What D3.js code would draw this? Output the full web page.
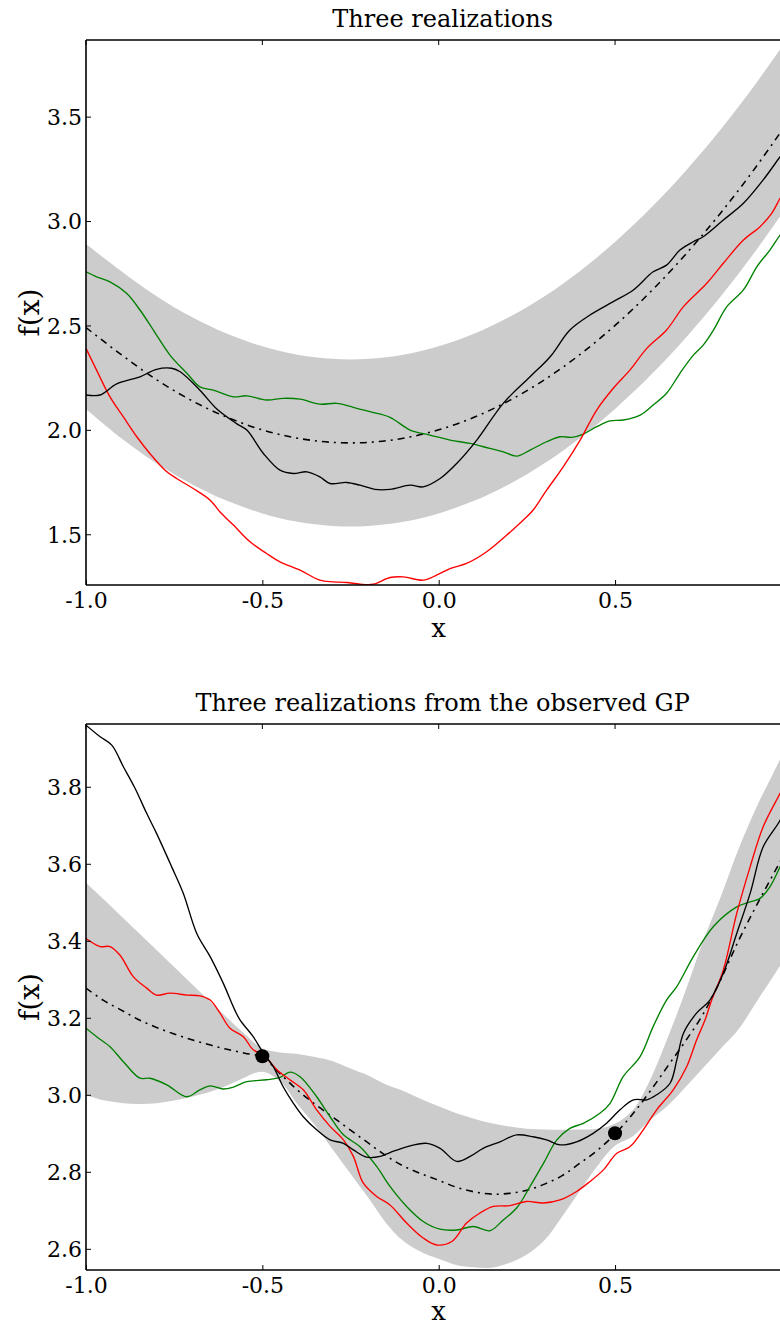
<!DOCTYPE html>
<html>
<head>
<meta charset="utf-8">
<script src="https://cdn.jsdelivr.net/npm/d3@7"></script>
<style>
  html, body { margin: 0; padding: 0; background: #fff; }
  svg { display: block; }
  text { font-family: "DejaVu Serif", serif; fill: #000; }
</style>
</head>
<body>
<svg id="chart" width="780" height="1326"></svg>
<script>
// ---------- shared axis ticks ----------
const xTicks = [-1.0, -0.5, 0.0, 0.5];
const topYTicks = [1.5, 2.0, 2.5, 3.0, 3.5];
const bottomYTicks = [2.6, 2.8, 3.0, 3.2, 3.4, 3.6, 3.8];
const xLimits = [-1, 1];
const topYLimits = [1.257, 3.867];
const bottomYLimits = [2.545, 3.963];

// ---------- prior GP: mean and 2-sigma band ----------
const topGridX = [-1.0,-0.9,-0.8,-0.7,-0.6,-0.5,-0.4,-0.3,-0.2,-0.1,0.0,0.1,0.2,0.3,0.4,0.5,0.6,0.7,0.8,0.9,1.0];
const topMean  = [2.49,2.36,2.24,2.14,2.06,2.00,1.96,1.94,1.94,1.96,2.00,2.06,2.14,2.24,2.36,2.50,2.66,2.84,3.04,3.26,3.50];
const topLower = [2.10,1.96,1.84,1.74,1.66,1.60,1.56,1.54,1.54,1.56,1.60,1.66,1.74,1.84,1.96,2.10,2.26,2.44,2.64,2.86,3.10];
const topUpper = [2.89,2.76,2.64,2.54,2.46,2.40,2.36,2.34,2.34,2.36,2.40,2.46,2.54,2.64,2.76,2.90,3.06,3.24,3.44,3.66,3.90];

// prior realizations
const topBlackX = [-1.000,-0.960,-0.913,-0.847,-0.800,-0.757,-0.733,-0.677,-0.629,-0.573,-0.544,-0.497,-0.450,-0.412,-0.374,-0.337,-0.308,-0.261,-0.223,-0.181,-0.138,-0.081,-0.044,0.004,0.051,0.108,0.183,0.259,0.316,0.372,0.429,0.495,0.552,0.608,0.646,0.684,0.722,0.750,0.807,0.864,0.920,0.968,1.000];
const topBlackY = [2.167,2.167,2.220,2.254,2.290,2.295,2.278,2.190,2.100,2.030,1.999,1.887,1.807,1.791,1.799,1.775,1.743,1.748,1.735,1.715,1.715,1.735,1.727,1.767,1.839,1.951,2.127,2.254,2.350,2.478,2.550,2.614,2.670,2.757,2.789,2.861,2.901,2.925,3.005,3.085,3.197,3.308,3.380];

const topRedX = [-1.000,-0.970,-0.932,-0.894,-0.856,-0.819,-0.776,-0.743,-0.696,-0.648,-0.620,-0.582,-0.535,-0.488,-0.450,-0.393,-0.337,-0.299,-0.261,-0.223,-0.185,-0.138,-0.100,-0.044,-0.006,0.032,0.079,0.136,0.193,0.240,0.268,0.306,0.353,0.401,0.448,0.495,0.542,0.590,0.646,0.694,0.760,0.807,0.864,0.911,0.944,0.968,1.000];
const topRedY = [2.390,2.286,2.158,2.062,1.967,1.887,1.807,1.767,1.719,1.663,1.607,1.544,1.464,1.408,1.368,1.328,1.280,1.272,1.269,1.261,1.261,1.293,1.296,1.280,1.304,1.336,1.360,1.416,1.496,1.568,1.616,1.711,1.823,1.951,2.095,2.199,2.286,2.390,2.478,2.590,2.702,2.798,2.909,2.973,3.037,3.109,3.200];

const topGreenX = [-1.000,-0.970,-0.932,-0.885,-0.847,-0.809,-0.762,-0.714,-0.677,-0.639,-0.582,-0.544,-0.488,-0.441,-0.393,-0.337,-0.289,-0.242,-0.195,-0.138,-0.081,-0.025,0.032,0.089,0.145,0.183,0.221,0.259,0.306,0.344,0.377,0.410,0.448,0.486,0.523,0.571,0.608,0.646,0.684,0.722,0.750,0.779,0.817,0.864,0.902,0.939,0.968,1.000];
const topGreenY = [2.757,2.733,2.709,2.654,2.574,2.478,2.358,2.271,2.206,2.190,2.158,2.163,2.143,2.151,2.147,2.123,2.127,2.108,2.087,2.060,1.999,1.975,1.951,1.935,1.911,1.895,1.874,1.903,1.943,1.967,1.964,1.980,2.015,2.043,2.047,2.071,2.119,2.175,2.271,2.358,2.406,2.478,2.590,2.670,2.781,2.861,2.933,3.000];

// ---------- posterior GP (conditioned on two observations) ----------
const obsX = [-0.5, 0.5];
const obsY = [3.1, 2.9];

const botGridX = [-1.00,-0.95,-0.90,-0.85,-0.80,-0.75,-0.70,-0.65,-0.60,-0.55,-0.50,-0.45,-0.40,-0.35,-0.30,-0.25,-0.20,-0.15,-0.10,-0.05,0.00,0.05,0.10,0.15,0.20,0.25,0.30,0.35,0.40,0.45,0.50,0.55,0.60,0.65,0.70,0.75,0.80,0.85,0.90,0.95,1.00];
const botMean  = [3.277,3.245,3.220,3.195,3.175,3.158,3.143,3.130,3.118,3.108,3.098,3.055,3.012,2.975,2.942,2.908,2.875,2.842,2.815,2.795,2.778,2.760,2.748,2.742,2.744,2.752,2.768,2.790,2.822,2.856,2.898,2.950,3.010,3.075,3.140,3.210,3.300,3.400,3.490,3.575,3.660];
const botUpper = [3.551,3.508,3.464,3.420,3.376,3.332,3.288,3.244,3.200,3.158,3.120,3.110,3.106,3.098,3.087,3.068,3.050,3.027,3.010,2.989,2.970,2.952,2.938,2.926,2.918,2.912,2.910,2.909,2.910,2.912,2.925,2.960,3.040,3.150,3.270,3.400,3.515,3.638,3.745,3.838,3.930];
const botLower = [2.999,2.986,2.979,2.976,2.978,2.985,2.995,3.007,3.024,3.045,3.060,3.035,2.975,2.920,2.857,2.795,2.733,2.668,2.620,2.592,2.574,2.558,2.552,2.551,2.563,2.585,2.622,2.684,2.750,2.815,2.868,2.892,2.935,2.972,3.020,3.070,3.120,3.170,3.240,3.310,3.380];

// posterior realizations
const botBlackX = [-1.000,-0.960,-0.927,-0.894,-0.861,-0.828,-0.800,-0.757,-0.724,-0.686,-0.648,-0.611,-0.578,-0.563,-0.526,-0.497,-0.469,-0.441,-0.412,-0.384,-0.346,-0.308,-0.270,-0.242,-0.204,-0.166,-0.138,-0.091,-0.034,0.004,0.051,0.089,0.126,0.174,0.221,0.268,0.306,0.344,0.391,0.438,0.476,0.514,0.552,0.590,0.618,0.656,0.675,0.694,0.731,0.769,0.807,0.845,0.883,0.920,0.968,1.000];
const botBlackY = [3.960,3.930,3.908,3.852,3.796,3.731,3.679,3.592,3.523,3.419,3.359,3.290,3.220,3.194,3.151,3.108,3.073,3.021,2.978,2.943,2.909,2.883,2.874,2.857,2.838,2.840,2.850,2.865,2.874,2.861,2.827,2.840,2.861,2.878,2.896,2.891,2.883,2.870,2.878,2.900,2.926,2.961,2.987,2.987,3.000,3.030,3.090,3.160,3.212,3.246,3.316,3.419,3.523,3.644,3.713,3.780];

const botRedX = [-1.000,-0.960,-0.932,-0.904,-0.866,-0.828,-0.800,-0.762,-0.714,-0.677,-0.648,-0.620,-0.592,-0.554,-0.526,-0.497,-0.459,-0.422,-0.384,-0.346,-0.308,-0.270,-0.242,-0.214,-0.176,-0.138,-0.091,-0.044,-0.006,0.037,0.079,0.117,0.155,0.202,0.249,0.297,0.344,0.391,0.429,0.467,0.505,0.542,0.580,0.618,0.665,0.703,0.731,0.755,0.774,0.807,0.845,0.883,0.920,0.968,1.000];
const botRedY = [3.406,3.385,3.385,3.363,3.307,3.277,3.259,3.264,3.259,3.257,3.246,3.212,3.173,3.151,3.117,3.104,3.065,3.039,3.013,2.961,2.918,2.883,2.840,2.771,2.736,2.714,2.667,2.628,2.610,2.619,2.667,2.693,2.710,2.712,2.723,2.719,2.727,2.749,2.775,2.805,2.848,2.865,2.909,2.961,3.013,3.073,3.142,3.194,3.246,3.324,3.471,3.592,3.696,3.783,3.840];

const botGreenX = [-1.000,-0.970,-0.932,-0.894,-0.847,-0.819,-0.771,-0.714,-0.677,-0.648,-0.611,-0.582,-0.544,-0.488,-0.450,-0.422,-0.393,-0.346,-0.308,-0.270,-0.223,-0.176,-0.138,-0.091,-0.044,0.004,0.051,0.098,0.145,0.183,0.221,0.259,0.297,0.335,0.372,0.410,0.457,0.486,0.523,0.571,0.608,0.646,0.675,0.722,0.779,0.845,0.883,0.911,0.939,0.968,1.000];
const botGreenY = [3.173,3.151,3.125,3.086,3.043,3.043,3.026,2.995,3.013,3.023,3.015,3.020,3.034,3.039,3.045,3.059,3.047,2.995,2.943,2.896,2.865,2.814,2.762,2.710,2.671,2.651,2.649,2.658,2.647,2.675,2.706,2.762,2.822,2.883,2.913,2.926,2.952,2.978,3.047,3.099,3.177,3.246,3.281,3.359,3.437,3.488,3.501,3.510,3.540,3.592,3.650];

// ---------- drawing ----------
const svg = d3.select("#chart");
const plotLeft = 86, plotRight = 791.4;

const BAND = "#cccccc";
const COLORS = { black: "#000000", red: "#ff0000", green: "#008000" };
const LINE_W = 1.35;

const zip = (xs, ys) => xs.map((x, i) => ({ x, y: ys[i] }));

function drawPanel(cfg) {
  const x = d3.scaleLinear().domain(xLimits).range([plotLeft, plotRight]);
  const y = d3.scaleLinear().domain(cfg.yLimits).range([cfg.bottom, cfg.top]);

  const g = svg.append("g");
  const clipId = "clip-" + cfg.id;
  g.append("clipPath").attr("id", clipId)
    .append("rect")
    .attr("x", plotLeft).attr("y", cfg.top)
    .attr("width", plotRight - plotLeft).attr("height", cfg.bottom - cfg.top);

  const plot = g.append("g").attr("clip-path", `url(#${clipId})`);

  // confidence band
  const bandData = cfg.gridX.map((gx, i) => ({ x: gx, lo: cfg.lower[i], hi: cfg.upper[i] }));
  plot.append("path")
    .datum(bandData)
    .attr("fill", BAND)
    .attr("stroke", "none")
    .attr("d", d3.area()
      .x(d => x(d.x)).y0(d => y(d.lo)).y1(d => y(d.hi))
      .curve(d3.curveCatmullRom.alpha(0.5)));

  // mean function (dash-dot)
  plot.append("path")
    .datum(zip(cfg.gridX, cfg.mean))
    .attr("fill", "none")
    .attr("stroke", "#000")
    .attr("stroke-width", LINE_W + 0.2)
    .attr("stroke-dasharray", "7,5,2,5")
    .attr("d", d3.line().x(d => x(d.x)).y(d => y(d.y)).curve(d3.curveCatmullRom.alpha(0.5)));

  // realizations
  const line = d3.line().x(d => x(d.x)).y(d => y(d.y)).curve(d3.curveCatmullRom.alpha(0.5));
  cfg.series.forEach(s => {
    plot.append("path")
      .datum(zip(s.xs, s.ys))
      .attr("fill", "none")
      .attr("stroke", s.color)
      .attr("stroke-width", LINE_W)
      .attr("stroke-linejoin", "round")
      .attr("d", line);
  });

  // observations
  if (cfg.obs) {
    plot.selectAll("circle.obs")
      .data(zip(cfg.obs.xs, cfg.obs.ys))
      .join("circle")
      .attr("class", "obs")
      .attr("cx", d => x(d.x)).attr("cy", d => y(d.y))
      .attr("r", 7).attr("fill", "#000");
  }

  // spines
  const spine = g.append("g").attr("stroke", "#000").attr("stroke-width", 1.6).attr("fill", "none");
  spine.append("line").attr("x1", plotLeft).attr("x2", plotRight).attr("y1", cfg.top).attr("y2", cfg.top);
  spine.append("line").attr("x1", plotLeft).attr("x2", plotRight).attr("y1", cfg.bottom).attr("y2", cfg.bottom);
  spine.append("line").attr("x1", plotLeft).attr("x2", plotLeft).attr("y1", cfg.top).attr("y2", cfg.bottom);
  spine.append("line").attr("x1", plotRight).attr("x2", plotRight).attr("y1", cfg.top).attr("y2", cfg.bottom);

  // inward ticks (matplotlib classic style)
  const tickLen = 5;
  const xAxisBottom = d3.axisBottom(x).tickValues(xTicks).tickSize(0).tickPadding(0);
  const gxb = g.append("g").attr("transform", `translate(0,${cfg.bottom})`).call(xAxisBottom);
  gxb.select(".domain").remove();
  gxb.selectAll(".tick text")
    .attr("y", 23).attr("dy", 0)
    .attr("font-size", 22).attr("font-family", "DejaVu Serif").attr("fill", "#000")
    .text(d => d3.format(".1f")(d).replace("\u2212", "-"));
  gxb.selectAll(".tick").append("line").attr("y1", 0).attr("y2", -tickLen).attr("stroke", "#000");
  xTicks.forEach(t => {
    g.append("line").attr("x1", x(t)).attr("x2", x(t))
      .attr("y1", cfg.top).attr("y2", cfg.top + tickLen).attr("stroke", "#000");
  });

  const yAxis = d3.axisLeft(y).tickValues(cfg.yTicks).tickSize(0).tickPadding(0);
  const gy = g.append("g").attr("transform", `translate(${plotLeft},0)`).call(yAxis);
  gy.select(".domain").remove();
  gy.selectAll(".tick text")
    .attr("x", -4).attr("dy", "0.36em")
    .attr("font-size", 22).attr("font-family", "DejaVu Serif").attr("fill", "#000")
    .text(d => d3.format(".1f")(d));
  gy.selectAll(".tick").append("line").attr("x1", 0).attr("x2", tickLen).attr("stroke", "#000");

  // title and axis labels
  g.append("text")
    .attr("x", (plotLeft + plotRight) / 2 + 4).attr("y", cfg.top - 13)
    .attr("text-anchor", "middle").attr("font-size", 24)
    .text(cfg.title);
  g.append("text")
    .attr("x", (plotLeft + plotRight) / 2).attr("y", cfg.bottom + cfg.xLabelGap)
    .attr("text-anchor", "middle").attr("font-size", 26)
    .text("x");
  g.append("text")
    .attr("transform", `translate(39,${(cfg.top + cfg.bottom) / 2}) rotate(-90)`)
    .attr("text-anchor", "middle").attr("font-size", 28)
    .text("f(x)");
}

drawPanel({
  id: "prior", top: 40, bottom: 585, yLimits: topYLimits, yTicks: topYTicks,
  title: "Three realizations", xLabelGap: 52,
  gridX: topGridX, mean: topMean, lower: topLower, upper: topUpper,
  series: [
    { xs: topGreenX, ys: topGreenY, color: COLORS.green },
    { xs: topRedX, ys: topRedY, color: COLORS.red },
    { xs: topBlackX, ys: topBlackY, color: COLORS.black }
  ]
});

drawPanel({
  id: "posterior", top: 724, bottom: 1270, yLimits: bottomYLimits, yTicks: bottomYTicks,
  title: "Three realizations from the observed GP", xLabelGap: 49.5,
  gridX: botGridX, mean: botMean, lower: botLower, upper: botUpper,
  series: [
    { xs: botGreenX, ys: botGreenY, color: COLORS.green },
    { xs: botRedX, ys: botRedY, color: COLORS.red },
    { xs: botBlackX, ys: botBlackY, color: COLORS.black }
  ],
  obs: { xs: obsX, ys: obsY }
});
</script>
</body>
</html>
